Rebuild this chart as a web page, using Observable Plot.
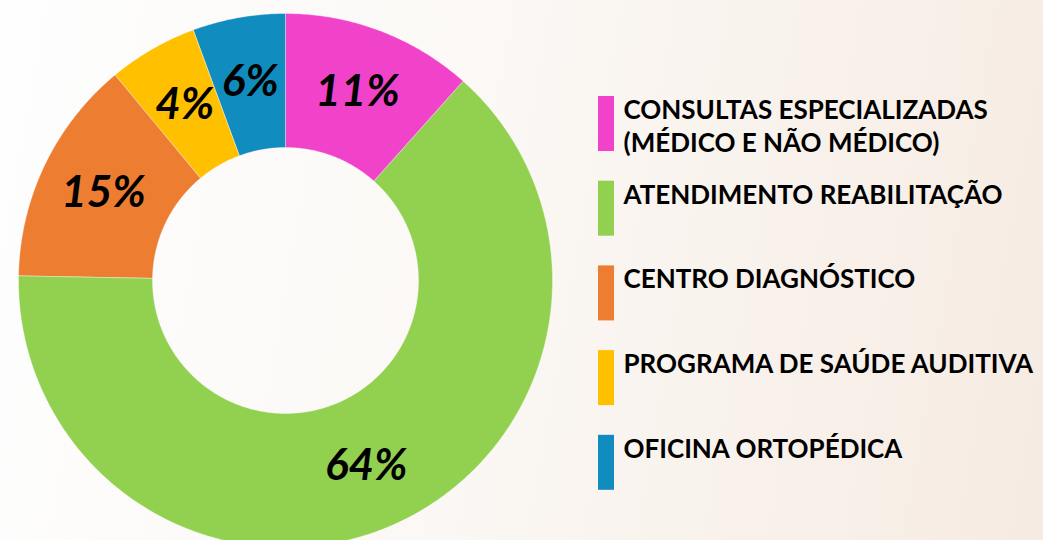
<!DOCTYPE html>
<html>
<head>
<meta charset="utf-8">
<script src="https://cdn.jsdelivr.net/npm/d3@7"></script>
<script src="https://cdn.jsdelivr.net/npm/@observablehq/plot@0.6"></script>
<style>
  html, body { margin: 0; padding: 0; }
  body {
    width: 1043px; height: 540px; overflow: hidden;
    background: linear-gradient(100deg, #fefefe 0%, #fbf8f5 45%, #f6ebe2 100%);
  }
  #chart svg { display: block; background: transparent; }
</style>
</head>
<body>
<div id="chart"></div>
<script>
// ---- Data ----
const categories = [
  "CONSULTAS ESPECIALIZADAS\n(MÉDICO E NÃO MÉDICO)",
  "ATENDIMENTO REABILITAÇÃO",
  "CENTRO DIAGNÓSTICO",
  "PROGRAMA DE SAÚDE AUDITIVA",
  "OFICINA ORTOPÉDICA"
];
// slice shares
const shares = [11.6, 63.7, 13.7, 5.4, 5.6];
// printed data labels
const labels = ["11%", "64%", "15%", "4%", "6%"];
const colors = ["#f043c9", "#92d050", "#ed7d31", "#ffc000", "#108cbf"];

// ---- Layout ----
const W = 1043, H = 540;
const cx = 285, cy = 280, R = 267, r0 = 133, rLabel = 202;
const legendX = 598, legendW = 16, legendTop = 96, legendStep = 84.7, legendH = 55;
const legendTextX = 623;

const pie = d3.pie().sort(null).value(d => d)(shares);

function pt(radius, a) {
  return [cx + radius * Math.sin(a), cy - radius * Math.cos(a)];
}

const slicePolys = pie.map((p, i) => {
  const pts = [];
  const n = Math.max(4, Math.ceil((p.endAngle - p.startAngle) / (Math.PI / 360)));
  for (let k = 0; k <= n; k++) {
    const a = p.startAngle + (p.endAngle - p.startAngle) * k / n;
    const [x, y] = pt(R, a);
    pts.push({x, y});
  }
  for (let k = n; k >= 0; k--) {
    const a = p.startAngle + (p.endAngle - p.startAngle) * k / n;
    const [x, y] = pt(r0, a);
    pts.push({x, y});
  }
  return pts;
});

const labelData = pie.map((p, i) => {
  const [x, y] = pt(rLabel, (p.startAngle + p.endAngle) / 2);
  return {x, y, text: labels[i]};
});

const legendData = categories.map((c, i) => ({
  x1: legendX, x2: legendX + legendW,
  y1: legendTop + i * legendStep, y2: legendTop + i * legendStep + legendH,
  tx: legendTextX, ty: legendTop + i * legendStep - 1,
  text: c, color: colors[i]
}));

const marks = [];
slicePolys.forEach((poly, i) => {
  marks.push(Plot.line(poly, {
    x: "x", y: "y", curve: "linear-closed",
    fill: colors[i], stroke: "#ffffff", strokeWidth: 0.6, strokeOpacity: 0.6
  }));
});
marks.push(Plot.text(labelData, {
  x: "x", y: "y", text: "text",
  fontFamily: "Lato", fontSize: 44, fontWeight: "bold", fontStyle: "italic",
  fill: "#000000", textAnchor: "middle", lineAnchor: "middle"
}));
marks.push(Plot.rect(legendData, {
  x1: "x1", x2: "x2", y1: "y1", y2: "y2", fill: d => d.color
}));
marks.push(Plot.text(legendData, {
  x: "tx", y: "ty", text: "text",
  fontFamily: "Lato", fontSize: 26, fontWeight: "bold",
  fill: "#000000", textAnchor: "start", lineAnchor: "top", lineHeight: 1.27
}));

const chart = Plot.plot({
  width: W, height: H,
  margin: 0, marginTop: 0, marginRight: 0, marginBottom: 0, marginLeft: 0,
  x: {type: "linear", domain: [0, W], range: [0, W], axis: null},
  y: {type: "linear", domain: [0, H], range: [0, H], axis: null},
  style: {background: "transparent", overflow: "visible"},
  marks
});
document.getElementById("chart").appendChild(chart);
</script>
</body>
</html>
